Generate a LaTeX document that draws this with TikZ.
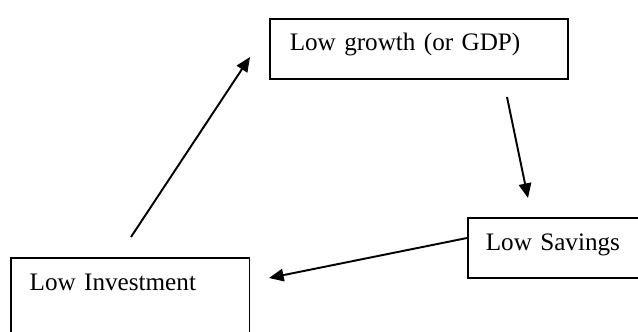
\documentclass[tikz,border=0pt]{standalone}
\usepackage{fontspec}
\setmainfont{Liberation Serif}
\usetikzlibrary{arrows.meta}

\tikzset{
  box/.style={draw, line width=0.7pt, anchor=north west, inner ysep=0pt,
    align=left, font=\fontsize{11.7}{14}\selectfont},
  link/.style={line width=0.9pt, -{Triangle[length=6.8pt, width=5.8pt]}}
}

\begin{document}
\begin{tikzpicture}[x=0.465pt, y=-0.465pt]
\useasboundingbox (0,0) rectangle (638,331);
% the three boxes
\node[box, inner xsep=9.3pt, text width=120pt, text height=14.9pt, text depth=13pt]
  (growth) at (269,18) {Low growth (or GDP)};
\node[box, inner xsep=8.4pt, text width=95pt, text height=15.3pt, text depth=12.6pt]
  (savings) at (467,217) {Low Savings};
\node[box, inner xsep=8.8pt, text width=93.5pt, text height=15.3pt, text depth=27.9pt]
  (invest) at (10,257) {Low Investment};
% arrow ends
\coordinate (invtop) at (131,237);
\coordinate (growthleft) at (250,57);
\coordinate (growthbelow) at (507,97);
\coordinate (savingsabove) at (528,198);
\coordinate (savingsleft) at (467,238);
\coordinate (investright) at (269,278);
\draw[link] (invtop) -- (growthleft);
\draw[link] (growthbelow) -- (savingsabove);
\draw[link] (savingsleft) -- (investright);
\end{tikzpicture}
\end{document}
